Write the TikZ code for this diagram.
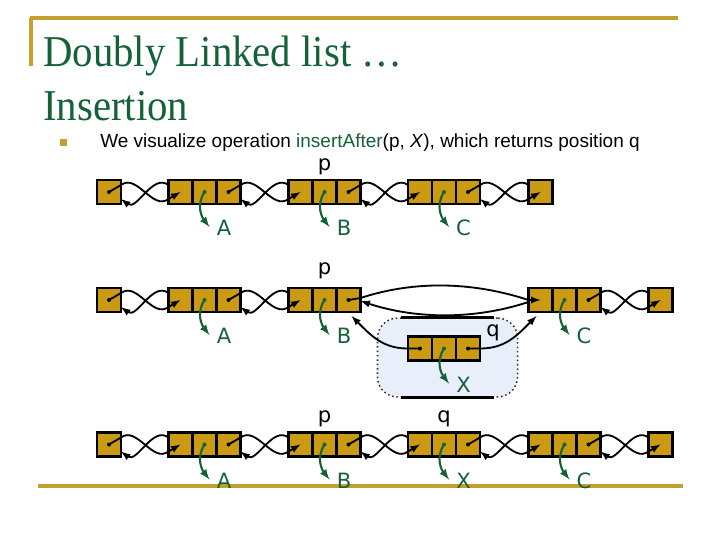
\documentclass[tikz,border=0pt]{standalone}
\usepackage{fontspec}
\setmainfont{Liberation Serif}
\setsansfont{Liberation Sans}
\newfontfamily\lblfont{DejaVu Sans}
\usetikzlibrary{positioning,calc}

\definecolor{framegold}{RGB}{196,160,48}
\definecolor{boxgold}{RGB}{201,154,18}
\definecolor{dgreen}{RGB}{22,98,56}
\definecolor{qblue}{RGB}{232,238,250}

\tikzset{
  cell/.style={draw=black, line width=1.5pt, fill=boxgold, minimum width=0.6cm,
    minimum height=0.6cm, inner sep=0pt, outer sep=0pt},
  ptr/.style={line width=1.3pt, ->},
  elemptr/.style={line width=1.5pt, dgreen, ->},
  lbl/.style={font=\lblfont\fontsize{15}{18}\selectfont, inner sep=0pt},
  frame/.style={framegold, line width=2.2pt},
}

% three cells: #1 name, #2 x of middle cell, #3 y
\newcommand{\trinode}[3]{%
  \node[cell] (#1-m) at (#2,#3) {};
  \node[cell, left=0pt of #1-m] (#1-l) {};
  \node[cell, right=0pt of #1-m] (#1-r) {};
}
% twisted pair of pointers between two cells
\newcommand{\dlink}[2]{%
  \fill (#1.center) circle (2);
  \draw[ptr] (#1.center) -- ($(#1.east)+(0,-7)$) .. controls +(16,-12) and +(-16,12) .. ($(#2.west)+(0,7)$) -- (#2.center);
  \draw[ptr] ($(#2.west)+(0,-7)$) .. controls +(-16,-12) and +(16,12) .. ($(#1.east)+(0,7)$);
}
% element pointer and its label
\newcommand{\elem}[2]{%
  \fill[dgreen] (#1-m.center) circle (2);
  \draw[elemptr] (#1-m.center) .. controls +(-9,14) and +(-7,-9) .. +(5,35);
  \node[lbl, text=dgreen] (#1-lbl) at ($(#1-m.center)+(19.5,36)$) {#2};
}

\begin{document}
\begin{tikzpicture}[x=0.025cm, y=-0.025cm, >=latex]
  \useasboundingbox (0,0) rectangle (720,540);

  % ==== FRAME ====
  \draw[frame] (30,18) -- (678,18);
  \draw[frame] (31,18) -- (31,66);
  \draw[frame] (38,486) -- (683,486);

  % ==== TITLE ====
  \node[anchor=base west, inner sep=0pt, text=dgreen, font=\fontsize{29}{34}\selectfont] (title1) at (43,66) {\scalebox{1}[1.08]{Doubly Linked list …}};
  \node[anchor=base west, inner sep=0pt, text=dgreen, font=\fontsize{29}{34}\selectfont] (title2) at (43,120) {\scalebox{1}[1.08]{Insertion}};
  \fill[framegold] (60,139) rectangle (67,146);
  \node[anchor=base west, inner sep=0pt, font=\sffamily\fontsize{13.5}{16}\selectfont] (sub) at (100,147)
    {We visualize operation \textcolor{dgreen}{insertAfter}(p, \textit{X}), which returns position q};

  % ==== NEW NODE BOX ====
  \node[draw=black!80, dotted, line width=1.1pt, fill=qblue, rounded corners=0.5cm,
    minimum width=3.5cm, minimum height=1.97cm] (xbox) at (447.5,357.5) {};
  \draw[line width=2pt] ($(xbox.north west)+(24,0)$) -- ($(xbox.north east)+(-24,0)$);
  \draw[line width=2pt] ($(xbox.south west)+(24,0)$) -- ($(xbox.south east)+(-24,0)$);

  % ==== NODES ====
  \foreach \r/\y in {1/192, 2/300, 3/444.5} {
    \node[cell] (H\r) at (109,\y) {};
    \trinode{A\r}{204.5}{\y}
    \trinode{B\r}{324.5}{\y}
  }
  \trinode{C1}{444}{192}
  \node[cell] (T1) at (540.5,192) {};
  \trinode{X2}{444}{348.5}
  \trinode{C2}{564.5}{300}
  \node[cell] (T2) at (660.5,300) {};
  \trinode{X3}{444}{444.5}
  \trinode{C3}{564.5}{444.5}
  \node[cell] (T3) at (660.5,444.5) {};

  % ==== LINKS ====
  \dlink{H1}{A1-l}
  \dlink{A1-r}{B1-l}
  \dlink{B1-r}{C1-l}
  \dlink{C1-r}{T1}

  \dlink{H2}{A2-l}
  \dlink{A2-r}{B2-l}
  \fill (B2-r.center) circle (2);
  \draw[ptr] (B2-r.center) -- ($(B2-r.east)+(0,-2)$) .. controls +(55,-18) and +(-55,-18) .. (C2-l.west) -- (C2-l.center);
  \draw[ptr] ($(C2-l.west)+(0,2)$) .. controls +(-55,18) and +(55,18) .. ($(B2-r.east)+(0,1)$);
  \dlink{C2-r}{T2}
  \fill (X2-l.center) circle (2);
  \draw[ptr] (X2-l.center) -- (X2-l.west) .. controls +(-25,0) and +(20,20) .. ($(B2-r.south)+(3,4)$);
  \fill (X2-r.center) circle (2);
  \draw[ptr] (X2-r.center) -- (X2-r.east) .. controls +(25,0) and +(-20,20) .. ($(C2-l.south)+(-4,4)$);

  \dlink{H3}{A3-l}
  \dlink{A3-r}{B3-l}
  \dlink{B3-r}{X3-l}
  \dlink{X3-r}{C3-l}
  \dlink{C3-r}{T3}

  % ==== ELEMENTS ====
  \elem{A1}{A} \elem{B1}{B} \elem{C1}{C}
  \elem{A2}{A} \elem{B2}{B} \elem{X2}{X} \elem{C2}{C}
  \elem{A3}{A} \elem{B3}{B} \elem{X3}{X} \elem{C3}{C}

  % ==== POSITIONS p and q ====
  \node[lbl, above=3.5pt of B1-m] (p1) {p};
  \node[lbl, above=6pt of B2-m] (p2) {p};
  \node[lbl] (q2) at ($(X2-r.center)+(25,-16)$) {q};
  \node[lbl, above=3.5pt of B3-m] (p3) {p};
  \node[lbl, above=3.5pt of X3-m] (q3) {q};
\end{tikzpicture}
\end{document}
